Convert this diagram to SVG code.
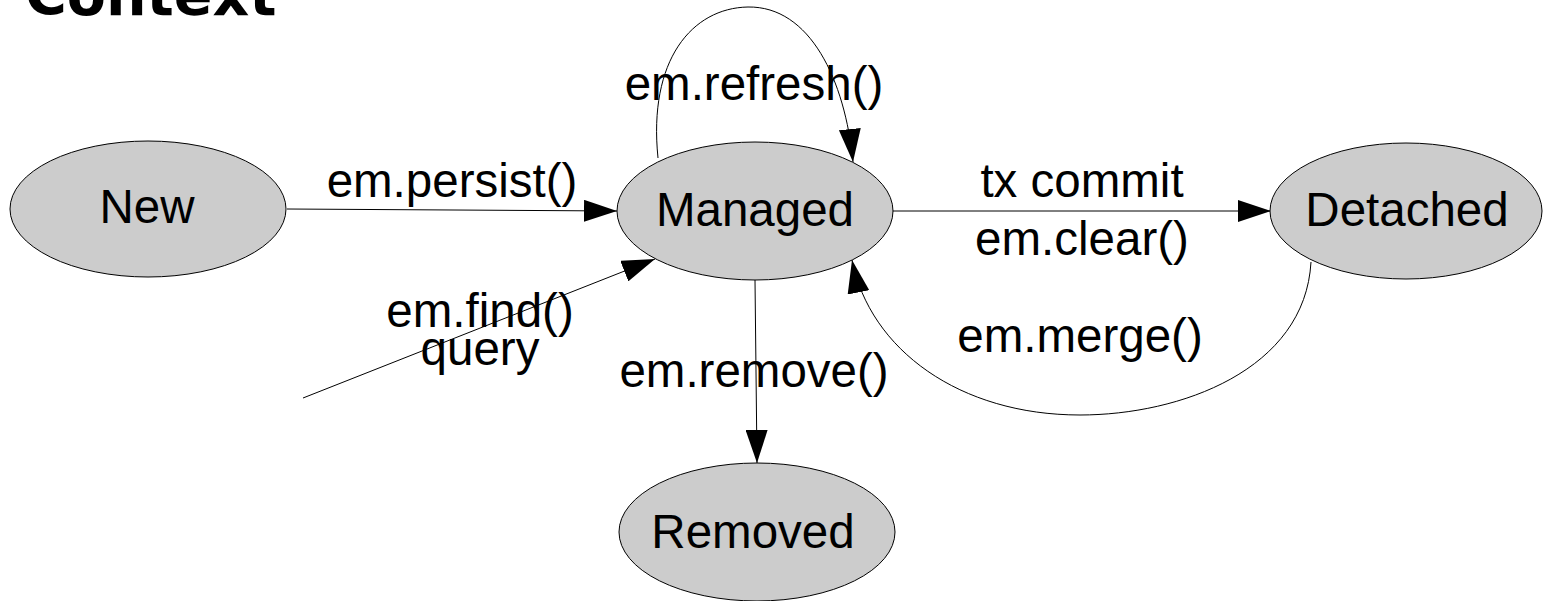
<svg xmlns="http://www.w3.org/2000/svg" width="1543" height="601" viewBox="0 0 1543 601">
<style>
.node ellipse{fill:#cccccc;stroke:#000;stroke-width:1}
.lbl{font-family:"Liberation Sans",Arial,sans-serif;font-size:47.5px;fill:#000;text-anchor:middle}
.edge{fill:none;stroke:#000;stroke-width:1}
.title{font-family:"DejaVu Sans",Verdana,sans-serif;font-weight:bold;font-size:57px;fill:#000}
</style>
<defs>
<marker id="arr" markerUnits="userSpaceOnUse" markerWidth="34" markerHeight="22" refX="33" refY="11" orient="auto" viewBox="0 0 34 22">
<path d="M0,0 L33,11 L0,22 z" fill="#000"/>
</marker>
</defs>
<rect width="1543" height="601" fill="#fff"/>
<text class="title" x="25" y="15">Context</text>
<g id="connectors">
<path class="edge" d="M287,209 L617,211" marker-end="url(#arr)"/>
<path class="edge" d="M658,158 C648,60 692,8 748,7 C810,6 845,80 853,162" marker-end="url(#arr)"/>
<path class="edge" d="M892,211 L1271,211" marker-end="url(#arr)"/>
<path class="edge" d="M1311,262 C1305,370 1180,415 1080,415 C960,415 870,350 852,260" marker-end="url(#arr)"/>
<path class="edge" d="M303,398 L655,259" marker-end="url(#arr)"/>
<path class="edge" d="M755,280 L757,463" marker-end="url(#arr)"/>
</g>
<g id="labels">
<text class="lbl" x="452" y="197">em.persist()</text>
<text class="lbl" x="754" y="100">em.refresh()</text>
<text class="lbl" x="1082" y="197">tx commit</text>
<text class="lbl" x="1082" y="255">em.clear()</text>
<text class="lbl" x="1080" y="352">em.merge()</text>
<text class="lbl" x="480" y="327">em.find()</text>
<text class="lbl" x="480" y="365">query</text>
<text class="lbl" x="754" y="387">em.remove()</text>
</g>
<g id="node-new" class="node">
<ellipse cx="148" cy="209" rx="138" ry="68"/>
<text class="lbl" x="147" y="223">New</text>
</g>
<g id="node-managed" class="node">
<ellipse cx="755" cy="211" rx="138" ry="69"/>
<text class="lbl" x="755" y="226">Managed</text>
</g>
<g id="node-detached" class="node">
<ellipse cx="1406" cy="211" rx="136" ry="68"/>
<text class="lbl" x="1407" y="226">Detached</text>
</g>
<g id="node-removed" class="node">
<ellipse cx="757" cy="532" rx="138" ry="69"/>
<text class="lbl" x="753" y="548">Removed</text>
</g>
</svg>
